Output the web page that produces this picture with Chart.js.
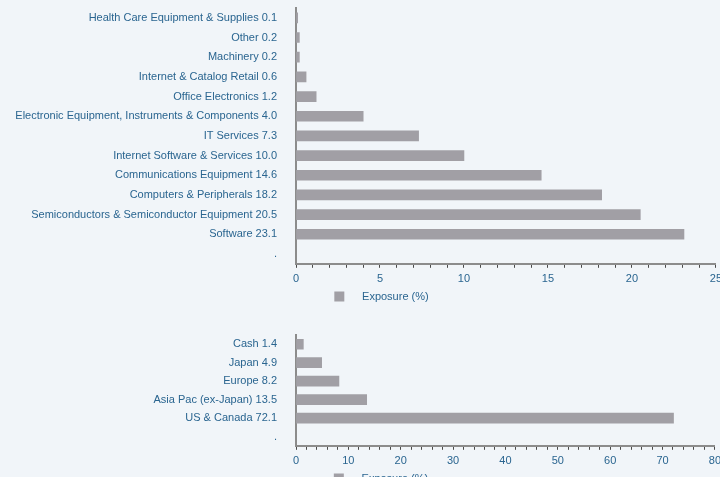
<!DOCTYPE html>
<html>
<head>
<meta charset="utf-8">
<script src="https://cdn.jsdelivr.net/npm/chart.js@4.4.0/dist/chart.umd.min.js"></script>
<style>
  html, body { margin: 0; padding: 0; background: #f1f5f9; overflow: hidden; width: 720px; height: 477px; }
  .box { position: absolute; left: 0; }
  #topBox { top: 0; width: 727px; height: 312px; }
  #botBox { top: 310px; width: 726px; height: 184px; }
</style>
</head>
<body>
<div class="box" id="topBox"><canvas id="sectorChart"></canvas></div>
<div class="box" id="botBox"><canvas id="regionChart"></canvas></div>
<script>
// datos: sectores
const sectorNames = ['Health Care Equipment & Supplies', 'Other', 'Machinery', 'Internet & Catalog Retail',
  'Office Electronics', 'Electronic Equipment, Instruments & Components', 'IT Services',
  'Internet Software & Services', 'Communications Equipment', 'Computers & Peripherals',
  'Semiconductors & Semiconductor Equipment', 'Software', '.'];
const sectorValues = [0.1, 0.2, 0.2, 0.6, 1.2, 4.0, 7.3, 10.0, 14.6, 18.2, 20.5, 23.1, null];

// datos: regiones
const regionNames = ['Cash', 'Japan', 'Europe', 'Asia Pac (ex-Japan)', 'US & Canada', '.'];
const regionValues = [1.4, 4.9, 8.2, 13.5, 72.1, null];

const sectorTicks = [0, 5, 10, 15, 20, 25];
const regionTicks = [0, 10, 20, 30, 40, 50, 60, 70, 80];

const seriesLabel = 'Exposure (%)';
const BAR_COLOR = '#a19fa5';
const TEXT_COLOR = '#2a6590';

Chart.defaults.font.family = '"Liberation Sans", Arial, sans-serif';
Chart.defaults.font.size = 11;
Chart.defaults.color = TEXT_COLOR;

// mover la leyenda a la derecha (no está centrada en el original)
const legendOffset = {
    id: 'legendOffset',
    afterLayout(chart, args, opts) {
        if (!chart.legend) return;
        chart.legend.left += opts.dx;
        chart.legend.right += opts.dx;
    }
};

function withValues(names, values) {
    return names.map((n, i) => values[i] === null ? n : n + ' ' + values[i].toFixed(1));
}

function makeChart(id, names, values, majorTicks, minorStep, padTop) {
    const ctx = document.getElementById(id).getContext('2d');
    const maxVal = majorTicks[majorTicks.length - 1];
    return new Chart(ctx, {
        type: 'bar',
        data: {
            labels: withValues(names, values),
            datasets: [{
                label: seriesLabel,
                data: values,
                backgroundColor: BAR_COLOR,
                barThickness: 10
            }]
        },
        plugins: [legendOffset],
        options: {
            indexAxis: 'y',
            responsive: true,
            maintainAspectRatio: false,
            animation: false,
            layout: { padding: { top: padTop, left: 0, right: 0, bottom: 0 } },
            plugins: {
                tooltip: { enabled: false },
                legendOffset: { dx: 18 },
                legend: {
                    position: 'bottom',
                    labels: {
                        boxWidth: 10,
                        boxHeight: 10,
                        padding: 0,
                        color: TEXT_COLOR,
                        // hueco entre el cuadro y el texto
                        generateLabels: (chart) => Chart.defaults.plugins.legend.labels.generateLabels(chart)
                            .map(l => Object.assign(l, { text: '    ' + l.text, strokeStyle: BAR_COLOR, lineWidth: 0 }))
                    }
                }
            },
            scales: {
                x: {
                    min: 0,
                    max: maxVal,
                    ticks: {
                        stepSize: minorStep,
                        autoSkip: false,
                        maxRotation: 0,
                        padding: 5,
                        color: TEXT_COLOR,
                        callback: (v) => majorTicks.includes(v) ? String(v) : ''
                    },
                    grid: { drawOnChartArea: false, drawTicks: true, tickLength: 4, color: '#4a4a4a', lineWidth: 1 },
                    border: { display: true, color: '#8c8c8c', width: 2 }
                },
                y: {
                    ticks: { padding: 0, color: TEXT_COLOR },
                    grid: { drawOnChartArea: false, drawTicks: true, tickLength: 19, color: 'transparent' },
                    border: { display: true, color: '#8c8c8c', width: 2 },
                    afterFit: (scale) => { scale.width = 296; }
                }
            }
        }
    });
}

const sectorChart = makeChart('sectorChart', sectorNames, sectorValues, sectorTicks, 1, 8);
const regionChart = makeChart('regionChart', regionNames, regionValues, regionTicks, 2, 25);
</script>
</body>
</html>
